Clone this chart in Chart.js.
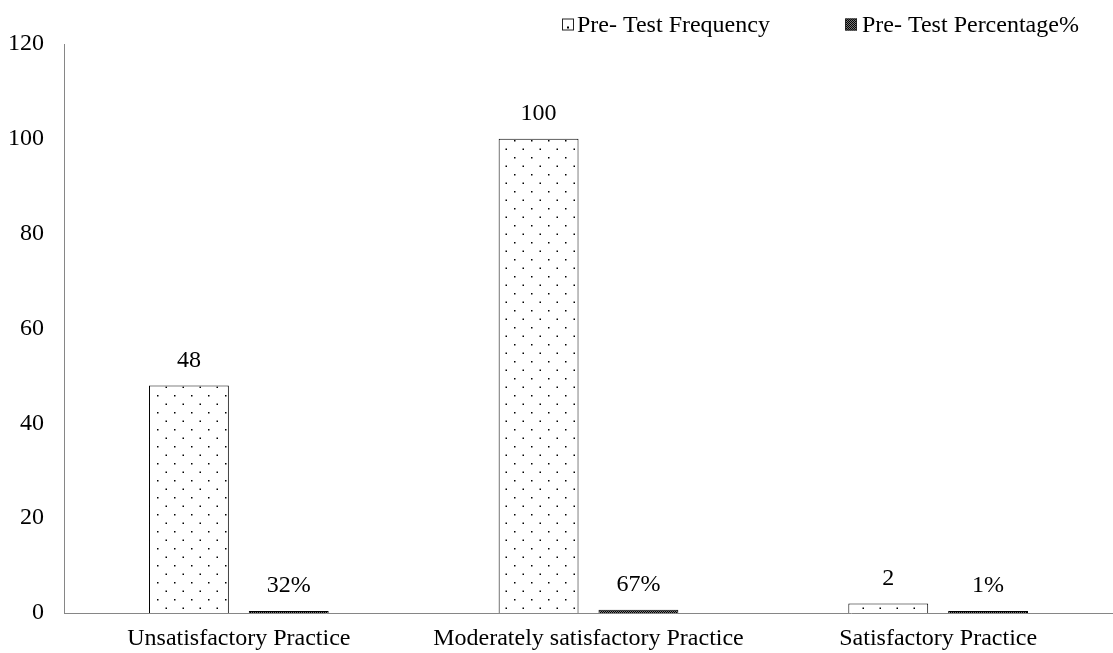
<!DOCTYPE html>
<html>
<head>
<meta charset="utf-8">
<script src="https://cdn.jsdelivr.net/npm/chart.js@4"></script>
<style>
  html, body { margin: 0; padding: 0; background: #fff; }
  #wrap { width: 1113px; height: 653px; }
</style>
</head>
<body>
<div id="wrap"><canvas id="chart" width="1113" height="653"></canvas></div>
<script>
const categories = ["Unsatisfactory Practice", "Moderately satisfactory Practice", "Satisfactory Practice"];
const seriesNames = ["Pre- Test Frequency", "Pre- Test Percentage%"];
const frequency = [48, 100, 2];
const percentage = [0.32, 0.67, 0.01]; // share of total, plotted as-is on the 0-120 axis
const yTicks = [0, 20, 40, 60, 80, 100, 120];

const FONT = "'Liberation Serif', 'Times New Roman', serif";
const FONT_SIZE = 24;

// dotted fill used by the frequency bars
const makeDots = () => {
  const c = document.createElement("canvas");
  c.width = 17;
  c.height = 17;
  const g = c.getContext("2d");
  g.fillStyle = "#fff";
  g.fillRect(0, 0, 17, 17);
  g.fillStyle = "#000";
  g.fillRect(4, 4, 1.5, 1.5);
  g.fillRect(12.5, 12.5, 1.5, 1.5);
  return g.createPattern(c, "repeat");
};

// dark checked fill for the percentage bars
const makeChecks = () => {
  const c = document.createElement("canvas");
  c.width = 2;
  c.height = 2;
  const g = c.getContext("2d");
  g.fillStyle = "#777";
  g.fillRect(0, 0, 2, 2);
  g.fillStyle = "#000";
  g.fillRect(0, 0, 1, 1);
  g.fillRect(1, 1, 1, 1);
  return g.createPattern(c, "repeat");
};

const dots = makeDots();
const checks = makeChecks();

const valueLabels = {
  id: "valueLabels",
  afterDatasetsDraw(chart) {
    const {ctx} = chart;
    ctx.save();
    ctx.font = `${FONT_SIZE}px ${FONT}`;
    ctx.fillStyle = "#000";
    ctx.textAlign = "center";
    ctx.textBaseline = "bottom";
    chart.data.datasets.forEach((ds, i) => {
      chart.getDatasetMeta(i).data.forEach((bar, j) => {
        const v = ds.data[j];
        const text = i === 0 ? String(v) : Math.round(v * 100) + "%";
        ctx.fillText(text, bar.x, bar.y - 13);
      });
    });
    ctx.restore();
  }
};

// legend sits in the top right, above the plot
const topLegend = {
  id: "topLegend",
  afterDraw(chart) {
    const {ctx} = chart;
    const items = [
      {x: 562, textX: 577, fill: "#fff", dot: true},
      {x: 845, textX: 862, fill: checks, dot: false}
    ];
    const y = 24.5;
    ctx.save();
    ctx.font = `${FONT_SIZE}px ${FONT}`;
    ctx.textBaseline = "middle";
    items.forEach((item, i) => {
      ctx.fillStyle = item.fill;
      ctx.fillRect(item.x, y - 6, 12, 12);
      if (item.dot) {
        ctx.fillStyle = "#000";
        ctx.fillRect(item.x + 5, y + 2, 2, 2);
      }
      ctx.strokeStyle = "#222";
      ctx.lineWidth = 1;
      ctx.strokeRect(item.x + 0.5, y - 5.5, 11, 11);
      ctx.fillStyle = "#000";
      ctx.fillText(seriesNames[i], item.textX, y + 1);
    });
    ctx.restore();
  }
};

new Chart(document.getElementById("chart"), {
  type: "bar",
  data: {
    labels: categories,
    datasets: [
      {
        label: seriesNames[0],
        data: frequency,
        backgroundColor: dots,
        borderColor: "#000",
        borderWidth: 1,
        barPercentage: 0.8,
        categoryPercentage: 0.571
      },
      {
        label: seriesNames[1],
        data: percentage,
        backgroundColor: checks,
        borderColor: "#000",
        borderWidth: 1,
        minBarLength: 2,
        barPercentage: 0.8,
        categoryPercentage: 0.571
      }
    ]
  },
  options: {
    responsive: false,
    animation: false,
    layout: {padding: {top: 44, left: 8, right: 0, bottom: 0}},
    plugins: {
      legend: {display: false},
      tooltip: {enabled: false}
    },
    scales: {
      x: {
        afterFit: (axis) => { axis.height = 40; },
        grid: {display: false, drawTicks: false},
        border: {color: "#868686", width: 1},
        ticks: {color: "#000", font: {family: FONT, size: FONT_SIZE}, padding: 11}
      },
      y: {
        min: 0,
        max: 120,
        afterFit: (axis) => { axis.width = 56; },
        afterBuildTicks: (axis) => {
          axis.ticks = yTicks.map((v) => ({value: v}));
        },
        grid: {display: false, drawTicks: false},
        border: {color: "#868686", width: 1},
        ticks: {color: "#000", font: {family: FONT, size: FONT_SIZE}, padding: 20}
      }
    }
  },
  plugins: [valueLabels, topLegend]
});
</script>
</body>
</html>
